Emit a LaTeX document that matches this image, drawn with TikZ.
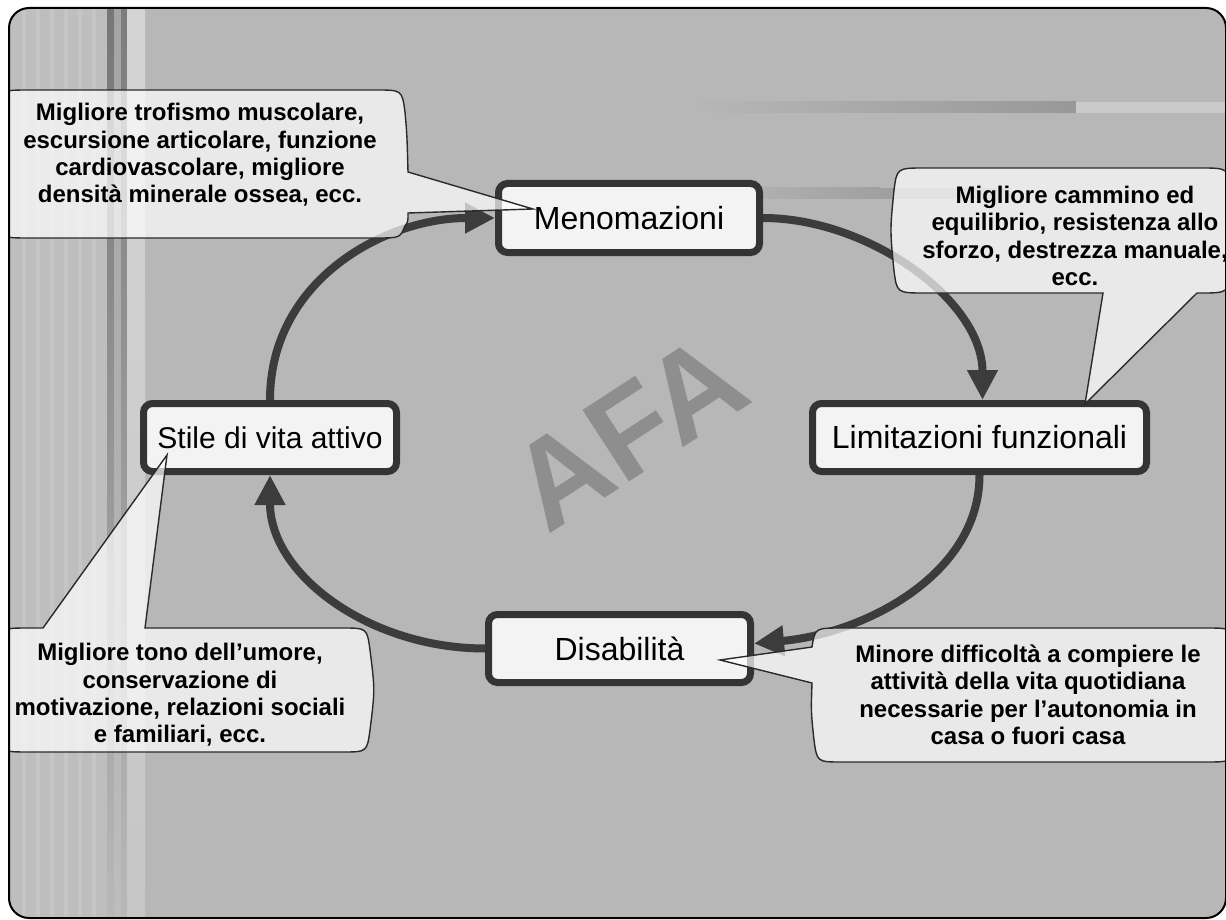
\documentclass[tikz,border=0pt]{standalone}
\usepackage{fontspec}
\setmainfont{Liberation Sans}
\usetikzlibrary{arrows.meta}
\definecolor{bg}{HTML}{B7B7B7}
\definecolor{boxline}{HTML}{343434}
\definecolor{boxfill}{HTML}{F3F3F3}
\definecolor{arrowgrey}{HTML}{3C3C3C}
\definecolor{bubbleline}{HTML}{2A2A2A}
\definecolor{afagrey}{HTML}{8E8E8E}
\definecolor{sidegrey}{HTML}{BEBEBE}
\definecolor{sidelight}{HTML}{C5C5C5}
\definecolor{darkA}{HTML}{767676}
\definecolor{darkB}{HTML}{7E7E7E}
\definecolor{fadeA}{HTML}{B8B8B8}
\definecolor{midA}{HTML}{A4A4A4}
\definecolor{midB}{HTML}{A8A8A8}
\definecolor{fadeB}{HTML}{BDBDBD}
\definecolor{darkC}{HTML}{7C7C7C}
\definecolor{darkD}{HTML}{848484}
\definecolor{lightA}{HTML}{D4D4D4}
\definecolor{lightB}{HTML}{D0D0D0}
\definecolor{lightC}{HTML}{C6C6C6}
\definecolor{bandA}{HTML}{989898}
\definecolor{bandB}{HTML}{CACACA}
\definecolor{bandC}{HTML}{A0A0A0}
\pgfdeclarelayer{back}
\pgfsetlayers{back,main}
\begin{document}
\begin{tikzpicture}[x=1pt,y=-1pt,
  stepbox/.style={draw=boxline, line width=7pt, fill=boxfill, rounded corners=9pt,
    inner sep=0pt, text=black, font=\fontsize{32}{36}\selectfont},
  cyclearrow/.style={draw=arrowgrey, line width=8pt,
    -{Triangle[length=30pt,width=29pt]}},
  bubble/.style={draw=bubbleline, line width=1.4pt, fill=white, fill opacity=0.7},
  bubbletext/.style={align=center, inner sep=0pt, text=black,
    font=\bfseries\fontsize{24}{27.4}\selectfont}
]
\useasboundingbox (0,0) rectangle (1226,920);

% slide background, stripes and watermark
\begin{pgfonlayer}{back}
  \fill[white] (0,0) rectangle (1226,920);
  \begin{scope}
    \clip[rounded corners=20pt] (9,8) rectangle (1226,918);
    \fill[bg] (0,0) rectangle (1226,920);
    \fill[sidegrey] (9,8) rectangle (107,918);
    \foreach \sx in {22,36,50,64,78,92}
      \fill[sidelight] (\sx,8) rectangle (\sx+4,918);
    \shade[top color=darkA, middle color=darkB, bottom color=fadeA]
      (107,8) rectangle (114,918);
    \shade[top color=midA, middle color=midB, bottom color=fadeB]
      (114,8) rectangle (121,918);
    \shade[top color=darkC, middle color=darkD, bottom color=fadeA]
      (121,8) rectangle (127,918);
    \shade[top color=lightA, middle color=lightB, bottom color=lightC]
      (127,8) rectangle (145,918);
    % horizontal bands at the upper right
    \shade[left color=bg, right color=bandA] (690,102) rectangle (1076,113);
    \fill[bandB] (1076,102) rectangle (1226,113);
    \shade[left color=bg, right color=bandC] (700,188) rectangle (880,199);
    \fill[bandC] (880,188) rectangle (1010,199);
  \end{scope}
  \node[rotate=33, text=afagrey, inner sep=0pt,
    font=\bfseries\fontsize{124}{124}\selectfont] (afa) at (628,432) {AFA};
\end{pgfonlayer}

% the four stages
\node[stepbox, minimum width=261pt, minimum height=69pt] (men) at (629,218) {Menomazioni};
\node[stepbox, minimum width=334pt, minimum height=68pt] (lim) at (979.5,437.5) {Limitazioni funzionali};
\node[stepbox, minimum width=262pt, minimum height=68pt] (dis) at (619.5,648.5) {Disabilità};
\node[stepbox, minimum width=253pt, minimum height=68pt,
  font=\fontsize{30}{34}\selectfont] (sti) at (270,437.5) {Stile di vita attivo};

% cycle connectors, under the boxes
\begin{pgfonlayer}{back}
  \draw[cyclearrow] (men.east) .. controls +(105,0) and +(0,-100) .. ([xshift=3pt]lim.north);
  \draw[cyclearrow] (lim.south) .. controls +(0,100) and +(110,-10) .. ([yshift=5pt]dis.east);
  \draw[cyclearrow] (dis.west) .. controls +(-115,0) and +(0,100) .. (sti.south);
  \draw[cyclearrow] (sti.north) .. controls +(0,-120) and +(-110,0) .. (men.west);
\end{pgfonlayer}

% callout tips
\coordinate (tipmen) at (533,209);
\coordinate (tiplim) at (1085,404);
\coordinate (tipsti) at (167,455);
\coordinate (tipdis) at (720,660);

% callouts: rounded bodies with slightly bulging sides and a wedge
\begin{scope}
  \clip[rounded corners=20pt] (9,8) rectangle (1226,918);
  \draw[bubble] (30,90) -- (376,90) .. controls (402,90) .. (405,112)
    .. controls (407,135) .. (408,172)
    -- (tipmen) -- (408,213) .. controls (408,222) .. (405,226)
    .. controls (400,238) .. (376,238)
    -- (30,238) .. controls (0,238) .. (-3,216) .. controls (-6,164) .. (-3,112)
    .. controls (0,90) .. cycle;
  \draw[bubble] (925,168) -- (1200,168) .. controls (1228,168) .. (1231,190)
    .. controls (1234,230) .. (1231,271) .. controls (1228,293) .. (1200,293)
    -- (1197,293) -- (tiplim) -- (1103,293) -- (925,293)
    .. controls (897,293) .. (894,271) .. controls (890,230) .. (894,190)
    .. controls (897,168) .. cycle;
  \draw[bubble] (30,628) -- (43,628) -- (tipsti) -- (145,628) -- (342,628)
    .. controls (367,628) .. (370,650) .. controls (375,690) .. (370,730)
    .. controls (367,752) .. (342,752)
    -- (30,752) .. controls (0,752) .. (-3,730) .. controls (-6,690) .. (-3,650)
    .. controls (0,628) .. cycle;
  \draw[bubble] (842,628) -- (1205,628) .. controls (1233,628) .. (1236,650)
    .. controls (1239,695) .. (1236,740) .. controls (1233,762) .. (1205,762)
    -- (842,762) .. controls (817,762) .. (814,740) .. controls (811,712) .. (812,683)
    -- (tipdis) -- (812,647) .. controls (815,628) .. cycle;
\end{scope}

\node[bubbletext] (t1) at (200,155) {Migliore trofismo muscolare,\\escursione articolare, funzione\\cardiovascolare, migliore\\densità minerale ossea, ecc.};
\node[bubbletext] (t2) at (1075,236) {Migliore cammino ed\\equilibrio, resistenza allo\\sforzo, destrezza manuale,\\ecc.};
\node[bubbletext] (t3) at (180,695) {Migliore tono dell’umore,\\conservazione di\\motivazione, relazioni sociali\\e familiari, ecc.};
\node[bubbletext] (t4) at (1028,695) {Minore difficoltà a compiere le\\attività della vita quotidiana\\necessarie per l’autonomia in\\casa o fuori casa};

% slide frame
\draw[black, line width=2pt, rounded corners=20pt] (9,8) rectangle (1226,918);
\end{tikzpicture}
\end{document}
